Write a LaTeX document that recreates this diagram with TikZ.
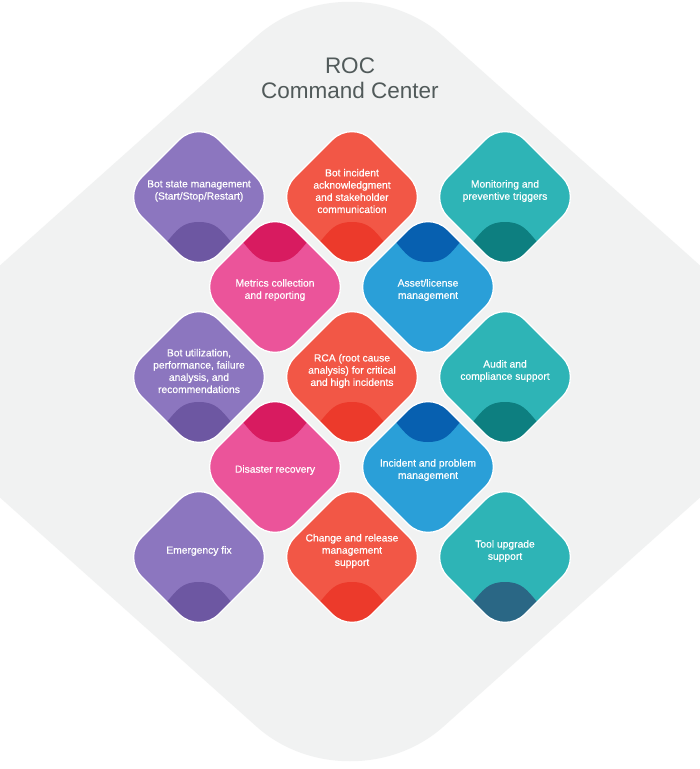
\documentclass[tikz,border=0pt]{standalone}
\usepackage{fontspec}
\setmainfont{Liberation Sans}
\newfontfamily\tilefont{Liberation Sans}[RawFeature={embolden=0.5}]
\definecolor{bggray}{HTML}{F1F2F2}
\definecolor{titlegray}{HTML}{515A5A}
\definecolor{purpleL}{HTML}{8C76BF}
\definecolor{purpleD}{HTML}{6D57A2}
\definecolor{redL}{HTML}{F25746}
\definecolor{redD}{HTML}{EC3A2B}
\definecolor{tealL}{HTML}{2EB4B6}
\definecolor{tealD}{HTML}{0D7F80}
\definecolor{tealB}{HTML}{2A6785}
\definecolor{pinkL}{HTML}{EB549A}
\definecolor{pinkD}{HTML}{D81B60}
\definecolor{blueL}{HTML}{2A9FD8}
\definecolor{blueD}{HTML}{0760B0}
\tikzset{
  tiletext/.style={text=white, font=\tilefont\fontsize{10.3}{12.2}\selectfont, align=center, inner sep=0pt},
  titletext/.style={text=titlegray, font=\fontsize{22.5}{25}\selectfont, align=center, inner sep=0pt},
  tileedge/.style={draw=white, line width=1.3pt, rounded corners=28pt},
}
% #1 cx, #2 cy, #3 light, #4 dark, #5 +1 dark at bottom / -1 dark at top, #6 name, #7 text
\newcommand{\roctile}[7]{%
  \begin{scope}
    \clip[rounded corners=28pt] ({#1-38.5},{#2-38.5}) -- (#1,{#2-77}) -- ({#1+77},#2) -- (#1,{#2+77}) -- ({#1-77},#2) -- cycle;
    \fill[#3] ({#1-80},{#2-80}) rectangle ({#1+80},{#2+80});
    \fill[#4] ({#1-80},{#2+(#5)*46}) -- ({#1-33},{#2+(#5)*46})
      .. controls ({#1-22},{#2+(#5)*33}) and ({#1-17},{#2+(#5)*25}) .. (#1,{#2+(#5)*25})
      .. controls ({#1+17},{#2+(#5)*25}) and ({#1+22},{#2+(#5)*33}) .. ({#1+33},{#2+(#5)*46})
      -- ({#1+80},{#2+(#5)*46}) -- ({#1+80},{#2+(#5)*80}) -- ({#1-80},{#2+(#5)*80}) -- cycle;
  \end{scope}
  \draw[tileedge] ({#1-38.5},{#2-38.5}) -- (#1,{#2-77}) -- ({#1+77},#2) -- (#1,{#2+77}) -- ({#1-77},#2) -- cycle;
  \node[tiletext] (#6) at (#1,{#2-1.5-4.5*(#5)}) {#7};
}
\begin{document}
\begin{tikzpicture}[x=1pt,y=-1pt]
\useasboundingbox (0,0) rectangle (700,769);
\fill[white] (0,0) rectangle (700,769);
\begin{scope}
  \clip (0,0) rectangle (700,769);
  \fill[bggray, rounded corners=125pt] (590,167.25) -- (830,381.5) -- (350,810) -- (-130,381.5) -- (350,-47) -- cycle;
\end{scope}
\node[titletext, anchor=north] (title) at (350,58) {ROC\\Command Center};

\roctile{199}{197}{purpleL}{purpleD}{1}{t1}{Bot state management\\(Start/Stop/Restart)}
\roctile{352}{197}{redL}{redD}{1}{t2}{Bot incident\\acknowledgment\\and stakeholder\\communication}
\roctile{505}{197}{tealL}{tealD}{1}{t3}{Monitoring and\\preventive triggers}
\roctile{275}{287}{pinkL}{pinkD}{-1}{t4}{Metrics collection\\and reporting}
\roctile{428}{287}{blueL}{blueD}{-1}{t5}{Asset/license\\management}
\roctile{199}{377}{purpleL}{purpleD}{1}{t6}{Bot utilization,\\performance, failure\\analysis, and\\recommendations}
\roctile{352}{377}{redL}{redD}{1}{t7}{RCA (root cause\\analysis) for critical\\and high incidents}
\roctile{505}{377}{tealL}{tealD}{1}{t8}{Audit and\\compliance support}
\roctile{275}{467}{pinkL}{pinkD}{-1}{t9}{Disaster recovery}
\roctile{428}{467}{blueL}{blueD}{-1}{t10}{Incident and problem\\management}
\roctile{199}{557}{purpleL}{purpleD}{1}{t11}{Emergency fix}
\roctile{352}{557}{redL}{redD}{1}{t12}{Change and release\\management\\support}
\roctile{505}{557}{tealL}{tealB}{1}{t13}{Tool upgrade\\support}
\end{tikzpicture}
\end{document}
